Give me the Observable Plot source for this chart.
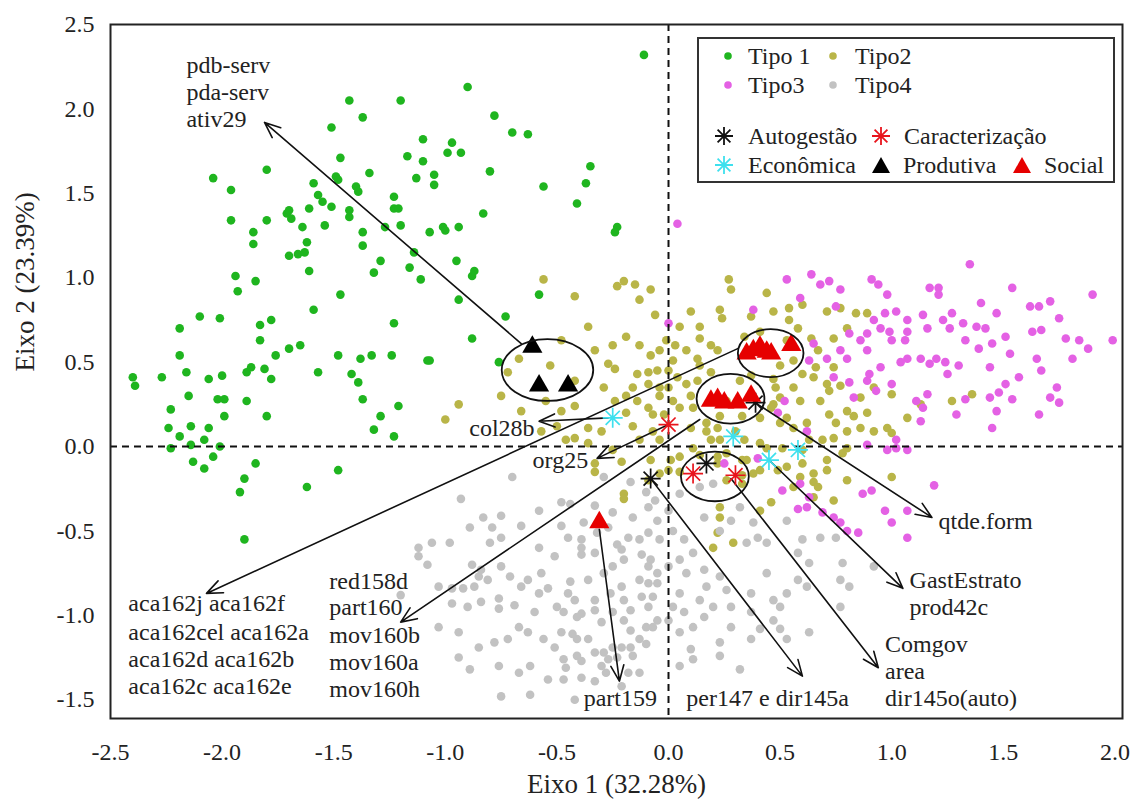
<!DOCTYPE html>
<html><head><meta charset="utf-8">
<script src="https://cdn.jsdelivr.net/npm/d3@7"></script>
<script src="https://cdn.jsdelivr.net/npm/@observablehq/plot@0.6"></script>
<style>
body{margin:0;background:#fff;font-family:'Liberation Serif','Times New Roman',Times,'DejaVu Serif',serif;}
#wrap{position:relative;width:1135px;height:800px;}
#legend{position:absolute;left:697px;top:37px;width:414px;height:142px;border:2px solid #333;background:#fff;}
.li{position:absolute;font-size:24px;color:#222;line-height:1;white-space:nowrap;transform:translateY(-50%);}
.ls{position:absolute;transform:translate(-50%,-50%);line-height:0;}
svg text{font-family:'Liberation Serif','Times New Roman',Times,'DejaVu Serif',serif;}
</style></head><body>
<div id="wrap"><div id="chart"></div><div id="legend"></div></div>
<script>
// ---------- data ----------
const xTicks = [-2.5,-2.0,-1.5,-1.0,-0.5,0.0,0.5,1.0,1.5,2.0];
const yTicks = [-1.5,-1.0,-0.5,0.0,0.5,1.0,1.5,2.0,2.5];

const tipo1 = [
[-0.11,2.32],[-1.43,2.05],[-1.20,2.05],[-1.37,1.95],[-1.51,1.89],[-1.10,1.82],[-1.47,1.71],[-1.17,1.72],[-1.10,1.69],[-1.80,1.64],[-2.04,1.59],[-1.96,1.52],[-1.59,1.56],[-1.49,1.60],[-1.48,1.58],[-1.34,1.62],[-1.13,1.59],[-1.40,1.54],[-1.39,1.51],[-1.57,1.49],[-1.55,1.45],[-1.51,1.42],[-1.23,1.48],[-1.23,1.41],[-1.21,1.41],[-1.71,1.38],[-1.70,1.40],[-1.69,1.35],[-1.61,1.41],[-1.43,1.40],[-1.43,1.36],[-1.96,1.34],[-1.80,1.34],[-1.64,1.30],[-1.54,1.31],[-1.27,1.30],[-1.20,1.31],[-1.37,1.27],[-1.86,1.27],[-1.86,1.20],[-1.62,1.21],[-1.37,1.19],[-1.70,1.13],[-1.66,1.14],[-1.63,1.15],[-1.29,1.10],[-1.14,1.15],[-1.16,1.06],[-1.11,0.99],[-1.32,1.03],[-1.61,1.04],[-1.94,1.01],[-1.85,0.98],[-1.93,0.92],[-1.47,0.90],[-1.59,0.81],[-2.10,0.77],[-2.01,0.76],[-1.83,0.72],[-1.78,0.75],[-1.23,0.73],[-2.19,0.70],
[-1.83,0.63],[-2.19,0.54],[-1.76,0.54],[-1.70,0.58],[-1.65,0.60],[-1.48,0.54],[-1.38,0.52],[-1.33,0.54],[-1.24,0.54],[-1.08,0.51],[-2.40,0.41],[-2.39,0.36],[-2.27,0.41],[-2.16,0.44],[-2.06,0.40],[-2.00,0.42],[-1.89,0.44],[-1.87,0.47],[-1.81,0.46],[-1.78,0.40],[-1.57,0.44],[-1.42,0.43],[-1.39,0.38],[-2.15,0.30],[-2.02,0.28],[-1.99,0.28],[-1.89,0.27],[-2.23,0.22],[-1.99,0.18],[-1.80,0.18],[-1.37,0.28],[-1.21,0.24],[-1.29,0.18],[-2.24,0.11],[-2.19,0.06],[-2.14,0.12],[-2.06,0.11],[-2.08,0.04],[-2.14,0.01],[-2.01,0.00],[-2.23,-0.01],[-1.32,0.10],[-1.23,0.06],[-2.13,-0.09],[-2.04,-0.06],[-2.08,-0.13],[-1.85,-0.10],[-1.48,-0.14],[-1.90,-0.19],[-1.92,-0.27],[-1.62,-0.24],[-1.90,-0.55],
[-0.90,2.13],[-0.78,1.96],[-0.70,1.86],[-0.63,1.85],[-0.97,1.80],[-0.99,1.74],[-0.93,1.74],[-1.05,1.61],[-1.05,1.55],[-0.80,1.63],[-0.35,1.66],[-0.37,1.56],[-0.56,1.54],[-0.41,1.44],[-0.83,1.38],[-1.07,1.27],[-1.01,1.30],[-1.00,1.28],[-0.94,1.30],[-0.23,1.30],[-0.24,1.27],[-0.95,1.10],[-0.88,1.01],[-0.87,1.04],[-0.94,0.87],[-0.58,0.90],[-0.73,0.77],[-0.88,0.64],[-1.07,0.51],[-0.76,0.50]
];

const tipo2 = [
[-0.56,0.99],[-0.42,0.89],[-0.23,0.95],[-0.20,0.98],[-0.15,0.96],[-0.13,0.87],[-0.08,0.93],[-0.06,0.78],[-0.36,0.71],[-0.19,0.65],[-0.67,0.52],[-0.53,0.48],[-0.72,0.44],[-0.27,0.49],[-0.24,0.46],[-0.14,0.43],[-0.09,0.44],[-0.05,0.45],[-0.29,0.35],[-0.16,0.35],[-0.09,0.37],[-0.04,0.35],[-0.94,0.25],[-1.00,0.16],[-0.36,0.11],[-0.30,0.09],[-0.07,0.19],[-0.14,0.27],[0.14,0.64],[0.24,0.76],[0.04,0.41],[0.08,0.37],[0.13,0.39],[0.02,0.27],[0.05,0.23],[-0.09,0.23],[-0.02,0.19],[-0.07,0.09],[-0.16,0.12],[0.10,0.11],[0.17,0.14],[0.23,0.18],[0.26,0.27],[0.22,0.11],[0.33,0.18],[0.41,0.17],[0.47,0.25],[0.50,0.29],[0.56,0.35],[0.59,0.27],[0.50,0.14],[0.56,0.11],[0.62,0.14],[0.63,0.04],[0.69,0.04],[0.68,0.27],[0.72,0.19],[0.60,0.43],[0.65,0.41],[0.71,0.37],[0.74,0.47],[0.47,0.80],[0.54,0.82],[0.58,0.70],[0.71,0.80],[0.53,0.63],[0.13,0.52],[0.22,0.57],[0.10,0.80],[0.23,0.81],[-0.25,-0.02],[-0.33,-0.10],[-0.21,-0.09],[0.01,-0.08],[0.05,-0.06],[-0.09,-0.20],[0.56,-0.24],[0.59,-0.18],[0.65,-0.21],[0.33,-0.17],[0.41,-0.14],[0.71,-0.14],[0.44,-0.01],[0.71,-0.08],[-0.20,-0.28],[0.00,-0.14],[-0.36,0.02],[-0.42,0.05],[0.27,0.99],[0.28,0.93],[0.44,0.91],[0.54,0.75],[0.37,0.77],[0.77,0.82],[0.84,0.79],[0.89,0.79],[0.60,0.84],[0.74,0.64],[0.80,0.70],[0.64,0.64],[0.67,0.57],[0.56,0.51],[0.66,0.47],[0.47,0.40],[0.00,0.45],[0.11,0.23],[0.00,0.35],[0.48,0.35],[0.46,0.23],[0.72,0.33],[0.77,0.36],[0.80,0.21],[0.83,0.18],[0.89,0.20],[0.75,0.14],[0.53,0.17],[0.80,0.09],[0.86,0.11],[0.92,0.09],[0.98,0.11],[1.00,0.08],[1.07,0.17],[1.13,0.25],[1.00,0.31],[0.92,0.35],[0.86,0.29],[0.74,0.05],[0.80,-0.01],[0.51,-0.01],[0.41,0.02],[0.33,-0.08],[0.49,-0.14],[0.60,-0.10],[0.65,-0.16],[0.80,-0.20],[1.00,-0.18],[0.65,-0.30],[0.74,-0.32],[0.46,-0.33],[0.41,-0.38],[0.33,-0.22],[0.26,-0.20],[0.22,-0.10],[0.11,-0.01],[1.27,0.27],[1.36,0.31],[-0.08,-0.08],[0.05,-0.15],[-0.04,-0.16],[0.22,-0.06],[0.26,-0.04],[0.35,-0.08],[0.38,-0.16],[0.53,-0.12],[0.60,-0.02],[0.78,-0.04],[0.67,-0.24],[0.23,-0.36],[0.23,-0.42],[0.22,-0.51],[0.20,-0.60],[0.29,-0.57],[-0.20,-0.31],[-0.33,-0.15],
[-0.04,0.57],[-0.01,0.63],[0.03,0.60],[0.08,0.57],[0.14,0.48],[0.19,0.44],[-0.08,0.54],[0.02,0.51],[-0.04,0.30],[0.10,0.30],[0.17,0.09],[0.19,0.04],[0.14,-0.05],[-0.13,0.04],[-0.04,0.04],[-0.19,0.20],[-0.24,0.27],[0.14,0.71],[0.19,0.60],[0.05,0.71],[0.34,0.65],[0.41,0.68],[0.32,0.39],[0.37,0.42],[0.30,0.09],[0.34,0.04],[0.23,0.04],[0.50,0.48],[-0.13,0.60],[-0.25,0.60],[-0.33,0.57],[-0.19,0.30],[-0.48,0.63],[-0.42,0.39],[-0.48,0.21],[-0.55,0.27],[-0.42,0.24],[-0.66,0.21],[-0.75,0.30],[-0.50,0.12],[-0.46,0.04],[-0.57,0.09]
];

const tipo3 = [
[1.35,1.08],[0.64,1.02],[0.53,0.99],[0.68,0.96],[0.72,0.98],[0.77,0.93],[0.91,0.99],[0.94,0.96],[0.98,0.90],[1.17,0.94],[1.21,0.94],[1.21,0.90],[1.54,0.94],[1.90,0.90],[0.59,0.88],[0.75,0.83],[0.38,0.81],[1.40,0.85],[1.47,0.79],[1.62,0.83],[1.66,0.83],[1.71,0.86],[1.75,0.76],[1.02,0.80],[1.07,0.75],[0.97,0.79],[1.14,0.78],[1.23,0.75],[1.27,0.79],[1.32,0.73],[0.92,0.75],[0.95,0.70],[0.81,0.67],[0.86,0.63],[0.89,0.67],[0.99,0.68],[1.00,0.63],[1.06,0.63],[1.07,0.68],[1.16,0.70],[1.26,0.70],[1.38,0.71],[1.42,0.70],[1.51,0.65],[1.63,0.68],[1.67,0.69],[1.78,0.64],[1.84,0.63],[1.88,0.58],[1.99,0.63],[1.81,0.52],[1.33,0.63],[1.39,0.58],[1.45,0.61],[1.53,0.55],[1.65,0.52],[1.67,0.45],[1.57,0.41],[1.44,0.47],[1.51,0.37],[1.48,0.32],[1.74,0.35],[1.71,0.29],[1.75,0.26],[1.66,0.19],[1.54,0.28],[1.44,0.29],[1.33,0.28],[1.29,0.19],[1.45,0.11],[1.47,0.21],[1.20,0.52],[1.24,0.50],[1.17,0.49],[1.13,0.52],[1.07,0.52],[1.04,0.50],[1.25,0.43],[1.30,0.48],[1.16,0.31],[1.11,0.27],[1.14,0.23],[1.00,0.37],[0.93,0.33],[0.89,0.39],[0.95,0.47],[0.90,0.43],[0.89,0.57],[0.80,0.52],[0.77,0.57],[0.71,0.52],[0.74,0.41],[0.81,0.38],[0.83,0.29],[1.13,0.15],[1.02,0.04],[0.98,-0.02],[0.65,0.61],[0.63,0.51],[0.52,0.27],[0.49,0.20],[0.62,0.09],[0.04,1.32],[0.00,0.73],[1.19,-0.23],[0.87,-0.28],[1.07,-0.38],[0.97,-0.38],[1.00,-0.45],[0.63,-0.30],[0.62,-0.36],[0.74,-0.42],[0.77,-0.45],[0.51,-0.26],[0.25,-0.10],[0.40,-0.07],[0.59,-0.22],[0.58,-0.37],[0.69,-0.39],[0.80,-0.50],[0.85,-0.51],[0.91,-0.26],[1.07,-0.54],[0.89,0.01],[1.02,-0.01],[1.07,-0.02]
];

const tipo4 = [
[-0.70,-0.18],[-0.93,-0.31],[-0.58,-0.38],[-0.83,-0.42],[-0.75,-0.41],[-0.66,-0.47],[-0.89,-0.48],[-0.79,-0.48],[-1.06,-0.57],[-1.12,-0.60],[-1.12,-0.65],[-0.98,-0.57],[-1.08,-0.70],[-0.80,-0.57],[-0.75,-0.54],[-0.58,-0.60],[-0.51,-0.65],[-0.88,-0.70],[-0.84,-0.73],[-0.75,-0.71],[-0.85,-0.77],[-0.87,-0.83],[-1.03,-0.83],[-0.97,-0.84],[-1.20,-0.88],[-0.92,-0.84],[-0.81,-0.79],[-0.71,-0.77],[-0.66,-0.83],[-0.63,-0.79],[-0.57,-0.75],[-0.54,-0.84],[-0.97,-0.93],[-0.90,-0.95],[-0.84,-0.92],[-0.76,-0.90],[-0.76,-0.96],[-0.69,-0.94],[-0.60,-0.98],[-0.58,-0.87],[-0.50,-0.95],[-1.03,-1.07],[-0.94,-1.10],[-0.67,-1.07],[-0.63,-1.10],[-0.72,-1.14],[-0.78,-1.16],[-0.85,-1.19],[-0.56,-1.14],[-0.51,-1.19],[-0.94,-1.25],[-0.89,-1.32],[-0.76,-1.30],[-0.67,-1.34],[-0.62,-1.30],[-0.75,-1.48],[-0.62,-1.47],[-0.54,-1.38],
[-0.48,-0.33],[-0.44,-0.34],[-0.33,-0.35],[-0.38,-0.45],[-0.48,-0.47],[-0.25,-0.39],[-0.16,-0.42],[-0.27,-0.48],[-0.45,-0.54],[-0.39,-0.55],[-0.32,-0.51],[-0.18,-0.54],[-0.13,-0.55],[-0.21,-0.61],[-0.33,-0.63],[-0.39,-0.64],[-0.25,-0.71],[-0.44,-0.80],[-0.36,-0.79],[-0.29,-0.75],[-0.21,-0.83],[-0.13,-0.79],[-0.42,-0.91],[-0.47,-0.98],[-0.41,-1.01],[-0.33,-0.97],[-0.30,-1.04],[-0.25,-0.98],[-0.17,-0.97],[-0.48,-1.10],[-0.41,-1.14],[-0.36,-1.14],[-0.33,-1.22],[-0.29,-1.22],[-0.27,-1.26],[-0.30,-1.30],[-0.41,-1.24],[-0.47,-1.26],[-0.21,-1.19],[-0.16,-1.24],[-0.13,-1.14],[-0.47,-1.38],[-0.42,-1.50],[-0.21,-1.42],[-0.13,-1.34],
[-0.39,-0.60],[-0.23,-0.58],[-0.20,-0.67],[-0.12,-0.64],[-0.08,-0.67],[-0.05,-0.81],[-0.45,-0.87],[-0.33,-0.91],[-0.26,-0.87],[-0.20,-0.91],[-0.12,-0.89],[-0.39,-0.99],[-0.20,-1.03],[-0.17,-1.09],[-0.10,-1.07],[-0.05,-1.03],[-0.43,-1.11],[-0.25,-1.19],[-0.17,-1.19],[-0.10,-1.17],[-0.39,-1.27],[-0.23,-1.25],[-0.18,-1.34],[-0.28,-1.34],[-0.33,-1.39],[-0.39,-1.37],[-0.46,-1.31],
[-0.29,-0.18],[-0.17,-0.21],[-0.10,-0.27],[-0.06,-0.32],
[-0.09,-0.36],[-0.05,-0.44],[0.00,-0.38],[0.05,-0.28],[-0.09,-0.51],[-0.04,-0.55],[0.02,-0.50],[0.07,-0.55],[0.11,-0.63],[0.16,-0.42],[0.23,-0.50],[0.28,-0.44],[0.14,-0.24],[0.20,-0.22],[0.32,-0.36],[0.38,-0.45],[0.40,-0.54],[0.35,-0.57],[-0.09,-0.71],[-0.05,-0.75],[-0.09,-0.81],[0.00,-0.71],[0.05,-0.67],[0.08,-0.75],[0.16,-0.73],[0.17,-0.83],[0.23,-0.77],[0.26,-0.85],[0.14,-0.91],[0.20,-0.95],[0.28,-0.95],[0.05,-0.87],[0.02,-0.95],[0.07,-0.98],[-0.07,-0.89],[-0.09,-0.95],[0.00,-1.03],[-0.07,-1.07],[0.05,-1.10],[0.11,-1.07],[0.16,-1.01],[0.10,-1.20],[0.11,-1.26],[0.05,-1.30],[0.23,-1.24],[0.28,-1.07],[0.37,-1.14],[0.37,-0.87],[0.44,-0.75],[0.50,-0.95],[0.47,-1.03],[0.50,-1.08],[0.44,-0.57],[0.58,-0.63],[0.60,-0.55],[0.53,-0.44],[0.63,-0.69],[0.68,-0.54],[0.75,-0.54],[0.78,-0.69],[0.77,-0.79],[0.81,-0.83],[0.92,-0.71],[0.77,-0.95],[0.62,-0.83],[0.63,-1.10],[0.53,-1.14],[0.41,-1.08],[0.47,-0.91],[0.37,-0.98],[0.32,-1.32],[0.23,-1.16],[0.58,-0.79],[0.53,-0.87]
];

const autogestao = [[-0.08,-0.19],[0.17,-0.10],[0.39,0.26]];
const caracterizacao = [[0.00,0.13],[0.11,-0.16],[0.30,-0.17]];
const economica = [[-0.25,0.17],[0.29,0.06],[0.45,-0.08],[0.58,-0.02]];
const produtiva = [[-0.61,0.59],[-0.58,0.36],[-0.45,0.36]];
const social = [[0.35,0.55],[0.38,0.57],[0.41,0.59],[0.44,0.56],[0.46,0.55],[0.55,0.60],[0.19,0.27],[0.22,0.28],[0.25,0.26],[0.31,0.26],[0.37,0.30],[-0.31,-0.45]];

const circulos = [
  {x:-0.54, y:0.45, rx:0.205, ry:0.183},
  {x:0.46, y:0.55, rx:0.147, ry:0.142},
  {x:0.28, y:0.28, rx:0.152, ry:0.147},
  {x:0.21, y:-0.18, rx:0.152, ry:0.147}
];

const setas = [
  {x1:-0.66,y1:0.61,x2:-1.81,y2:1.92},
  {x1:-0.27,y1:0.17,x2:-0.58,y2:0.15},
  {x1:0.00,y1:0.13,x2:-0.32,y2:-0.07},
  {x1:0.31,y1:0.58,x2:-2.07,y2:-0.87},
  {x1:0.14,y1:0.16,x2:-1.20,y2:-1.04},
  {x1:0.40,y1:0.25,x2:1.18,y2:-0.42},
  {x1:0.45,y1:-0.08,x2:1.05,y2:-0.84},
  {x1:0.28,y1:-0.19,x2:0.94,y2:-1.31},
  {x1:-0.08,y1:-0.19,x2:0.60,y2:-1.36},
  {x1:-0.31,y1:-0.49,x2:-0.22,y2:-1.39}
];

const rotulosInicio = [
  {text:"pdb-serv", x:-2.16, y:2.26},{text:"pda-serv", x:-2.16, y:2.10},{text:"ativ29", x:-2.16, y:1.94},
  {text:"aca162j aca162f", x:-2.42, y:-0.93},{text:"aca162cel aca162a", x:-2.42, y:-1.10},{text:"aca162d aca162b", x:-2.42, y:-1.26},{text:"aca162c aca162e", x:-2.42, y:-1.42},
  {text:"red158d", x:-1.52, y:-0.80},{text:"part160", x:-1.52, y:-0.95},{text:"mov160b", x:-1.52, y:-1.12},{text:"mov160a", x:-1.52, y:-1.28},{text:"mov160h", x:-1.52, y:-1.44},
  {text:"part159", x:-0.38, y:-1.49},{text:"per147 e dir145a", x:0.08, y:-1.49},
  {text:"Comgov", x:0.97, y:-1.17},{text:"area", x:0.97, y:-1.33},{text:"dir145o(auto)", x:0.97, y:-1.49},
  {text:"GastEstrato", x:1.08, y:-0.79},{text:"prod42c", x:1.08, y:-0.95},
  {text:"qtde.form", x:1.21, y:-0.44}
];
const rotulosFim = [{text:"col28b", x:-0.60, y:0.11},{text:"org25", x:-0.36, y:-0.08}];

const legendTipos = ["Tipo 1","Tipo2","Tipo3","Tipo4"];
const legendGrupos = ["Autogestão","Caracterização","Econômica","Produtiva","Social"];
const axisTitles = ["Eixo 1 (32.28%)","Eixo 2 (23.39%)"];

// ---------- styles ----------
const FONT = "'Liberation Serif','Times New Roman',Times,'DejaVu Serif',serif";
const C = {t1:"#1fb51f", t2:"#b9b548", t3:"#e461e4", t4:"#c2c2c2", black:"#111", red:"#e8141c", cyan:"#3ee0ee", tri:"#e60000"};
const asterisk8 = {draw(ctx, size){ const r = Math.sqrt(size/Math.PI), d = r*Math.SQRT1_2;
  ctx.moveTo(-r,0); ctx.lineTo(r,0); ctx.moveTo(0,-r); ctx.lineTo(0,r);
  ctx.moveTo(-d,-d); ctx.lineTo(d,d); ctx.moveTo(-d,d); ctx.lineTo(d,-d);} };
const fmt = d => d.toFixed(1);
const X = d => d[0], Y = d => d[1];
const ns = "http://www.w3.org/2000/svg";

function ellipseMark(index, scales) {
  const {x, y} = scales;
  const g = document.createElementNS(ns, "g");
  for (const e of circulos) {
    const el = document.createElementNS(ns, "ellipse");
    const cx = x(e.x), cy = y(e.y);
    el.setAttribute("cx", cx); el.setAttribute("cy", cy);
    el.setAttribute("rx", Math.abs(x(e.x + e.rx) - cx));
    el.setAttribute("ry", Math.abs(y(e.y + e.ry) - cy));
    el.setAttribute("fill", "none"); el.setAttribute("stroke", "#111"); el.setAttribute("stroke-width", "1.8");
    g.appendChild(el);
  }
  return g;
}

const chart = Plot.plot({
  width: 1135, height: 800,
  marginLeft: 110, marginRight: 13, marginTop: 24, marginBottom: 82,
  style: {fontFamily: FONT, fontSize: "24px", color: "#222", background: "#fff", overflow: "visible"},
  x: {domain: [-2.5, 2.034], ticks: xTicks, tickFormat: fmt, tickSize: 0, tickPadding: 24, label: null},
  y: {domain: [-1.611, 2.5], ticks: yTicks, tickFormat: fmt, tickSize: 0, tickPadding: 16, label: null},
  marks: [
    Plot.dot(tipo1, {x: X, y: Y, r: 4.3, fill: C.t1}),
    Plot.dot(tipo2, {x: X, y: Y, r: 4.3, fill: C.t2}),
    Plot.dot(tipo3, {x: X, y: Y, r: 4.3, fill: C.t3}),
    Plot.dot(tipo4, {x: X, y: Y, r: 4.3, fill: C.t4}),
    Plot.ruleX([0], {stroke: "#111", strokeWidth: 2, strokeDasharray: "7,5"}),
    Plot.ruleY([0], {stroke: "#111", strokeWidth: 2, strokeDasharray: "7,5"}),
    Plot.arrow(setas, {x1: "x1", y1: "y1", x2: "x2", y2: "y2", stroke: "#111", strokeWidth: 1.6, headLength: 16, headAngle: 45}),
    Plot.dot(autogestao, {x: X, y: Y, r: 10, symbol: asterisk8, fill: "none", stroke: C.black, strokeWidth: 1.7}),
    Plot.dot(caracterizacao, {x: X, y: Y, r: 10, symbol: asterisk8, fill: "none", stroke: C.red, strokeWidth: 1.7}),
    Plot.dot(economica, {x: X, y: Y, r: 10, symbol: asterisk8, fill: "none", stroke: C.cyan, strokeWidth: 1.7}),
    Plot.dot(produtiva, {x: X, y: Y, r: 7.5, symbol: "triangle", fill: "#000", stroke: "none"}),
    Plot.dot(social, {x: X, y: Y, r: 7.5, symbol: "triangle", fill: C.tri, stroke: "none"}),
    ellipseMark,
    Plot.text(rotulosInicio, {x: "x", y: "y", text: "text", textAnchor: "start", fontSize: 24, fontFamily: FONT, fill: "#222"}),
    Plot.text(rotulosFim, {x: "x", y: "y", text: "text", textAnchor: "end", fontSize: 24, fontFamily: FONT, fill: "#222"}),
    Plot.text([axisTitles[0]], {text: d => d, frameAnchor: "bottom", dy: 74, fontSize: 27, fontFamily: FONT, fill: "#222"}),
    Plot.text([axisTitles[1]], {text: d => d, frameAnchor: "left", dx: -85, rotate: -90, fontSize: 27, fontFamily: FONT, fill: "#222"}),
    Plot.frame({stroke: "#222", strokeWidth: 2})
  ]
});
document.getElementById("chart").appendChild(chart);

// ---------- legend ----------
const dotSvg = c => `<svg width="10" height="10"><circle cx="5" cy="5" r="3.8" fill="${c}"/></svg>`;
const astSvg = c => `<svg width="20" height="20"><path d="M1,10H19M10,1V19M3.6,3.6L16.4,16.4M3.6,16.4L16.4,3.6" stroke="${c}" stroke-width="1.8"/></svg>`;
const triSvg = c => `<svg width="20" height="18"><path d="M10,1L19,17H1Z" fill="${c}"/></svg>`;
const legendItems = [
  {label: legendTipos[0], sym: dotSvg(C.t1), sx: 29, tx: 49, ty: 17},
  {label: legendTipos[1], sym: dotSvg(C.t2), sx: 134, tx: 156, ty: 17},
  {label: legendTipos[2], sym: dotSvg(C.t3), sx: 29, tx: 49, ty: 46},
  {label: legendTipos[3], sym: dotSvg(C.t4), sx: 134, tx: 156, ty: 46},
  {label: legendGrupos[0], sym: astSvg(C.black), sx: 25, tx: 49, ty: 97},
  {label: legendGrupos[1], sym: astSvg(C.red), sx: 182, tx: 205, ty: 97},
  {label: legendGrupos[2], sym: astSvg(C.cyan), sx: 25, tx: 49, ty: 126},
  {label: legendGrupos[3], sym: triSvg("#000"), sx: 182, tx: 204, ty: 126},
  {label: legendGrupos[4], sym: triSvg(C.tri), sx: 323, tx: 345, ty: 126}
];
const leg = document.getElementById("legend");
for (const it of legendItems) {
  const s = document.createElement("div"); s.className = "ls"; s.style.left = it.sx + "px"; s.style.top = it.ty + "px"; s.innerHTML = it.sym; leg.appendChild(s);
  const t = document.createElement("div"); t.className = "li"; t.style.left = it.tx + "px"; t.style.top = it.ty + "px"; t.textContent = it.label; leg.appendChild(t);
}
</script></body></html>
